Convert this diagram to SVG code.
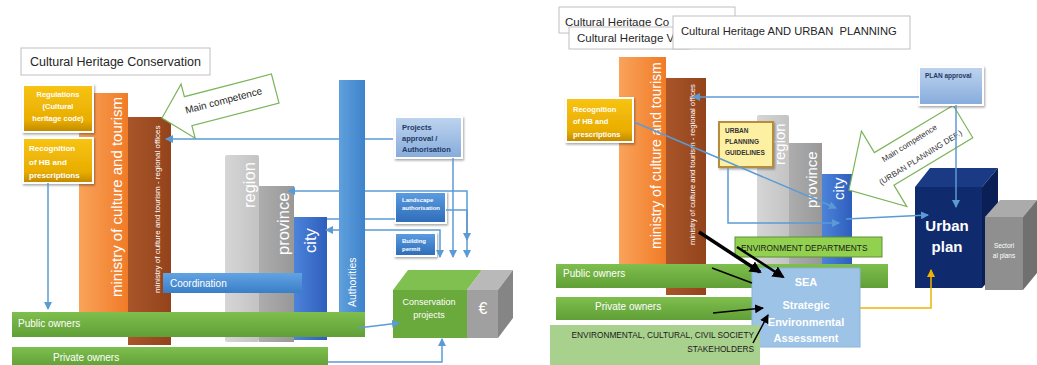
<svg xmlns="http://www.w3.org/2000/svg" width="1037" height="365" viewBox="0 0 1037 365">
<defs>
<style>
text{font-family:"Liberation Sans",Arial,sans-serif}
.w{fill:#fff}
.b{font-weight:bold}
.dk{fill:#1f3864}
.c{fill:none;stroke:#5b9bd5;stroke-width:1.5}
.k{fill:none;stroke:#000}
.fr{stroke:#fff;stroke-width:2;filter:url(#sh)}
.ttl{fill:#fff;stroke:#c0c0c0;stroke-width:1}
.arr{fill:#fff;stroke:#7cb45a;stroke-width:1.2}
</style>
<filter id="sh" x="-20%" y="-20%" width="150%" height="150%"><feDropShadow dx="1" dy="1.5" stdDeviation="1.2" flood-color="#000" flood-opacity="0.35"/></filter>
<linearGradient id="gOr" x1="0" x2="1" y1="0" y2="0"><stop offset="0" stop-color="#f9a35a"/><stop offset="1" stop-color="#f07b27"/></linearGradient>
<linearGradient id="gBr" x1="0" x2="1" y1="0" y2="0"><stop offset="0" stop-color="#a9552a"/><stop offset="1" stop-color="#93431b"/></linearGradient>
<linearGradient id="gGold" x1="0" x2="0" y1="0" y2="1"><stop offset="0" stop-color="#f7c414"/><stop offset="0.75" stop-color="#e9ad00"/><stop offset="1" stop-color="#bf8800"/></linearGradient>
<linearGradient id="gApp" x1="0" x2="0" y1="0" y2="1"><stop offset="0" stop-color="#bed4ef"/><stop offset="1" stop-color="#86abdb"/></linearGradient>
<linearGradient id="gMid" x1="0" x2="0" y1="0" y2="1"><stop offset="0" stop-color="#5c9de2"/><stop offset="1" stop-color="#2d6bb7"/></linearGradient>
<linearGradient id="gCo" x1="0" x2="0" y1="0" y2="1"><stop offset="0" stop-color="#62a3e2"/><stop offset="1" stop-color="#3a7ec7"/></linearGradient>
<linearGradient id="gAu" x1="0" x2="1" y1="0" y2="0"><stop offset="0" stop-color="#5fa0dc"/><stop offset="1" stop-color="#3e82cb"/></linearGradient>
<linearGradient id="gCi" x1="0" x2="1" y1="0" y2="0"><stop offset="0" stop-color="#4d83d9"/><stop offset="1" stop-color="#2e5ebd"/></linearGradient>
<linearGradient id="gRe" x1="0" x2="1" y1="0" y2="0"><stop offset="0" stop-color="#d6d6d6"/><stop offset="1" stop-color="#c3c3c3"/></linearGradient>
<linearGradient id="gPr" x1="0" x2="1" y1="0" y2="0"><stop offset="0" stop-color="#adadad"/><stop offset="1" stop-color="#989898"/></linearGradient>
<linearGradient id="gGr" x1="0" x2="0" y1="0" y2="1"><stop offset="0" stop-color="#7fbf4e"/><stop offset="1" stop-color="#5f9f36"/></linearGradient>
<marker id="ab" markerWidth="8" markerHeight="8" refX="7" refY="4" orient="auto-start-reverse" markerUnits="userSpaceOnUse"><path d="M0,0 L8,4 L0,8 z" fill="#5b9bd5"/></marker>
<marker id="ak" markerWidth="12" markerHeight="12" refX="10" refY="6" orient="auto" markerUnits="userSpaceOnUse"><path d="M0,0 L12,6 L0,12 z" fill="#000"/></marker>
<marker id="ak2" markerWidth="9" markerHeight="9" refX="8" refY="4.5" orient="auto" markerUnits="userSpaceOnUse"><path d="M0,0 L9,4.5 L0,9 z" fill="#000"/></marker>
<marker id="ao" markerWidth="8" markerHeight="8" refX="7" refY="4" orient="auto" markerUnits="userSpaceOnUse"><path d="M0,0 L8,4 L0,8 z" fill="#f0b400"/></marker>
</defs>
<rect width="1037" height="365" fill="#fff"/>

<!-- LEFT PANEL -->
<g id="title-left"><rect class="ttl" x="21" y="48" width="189" height="27"/><text x="30" y="66" font-size="12.5" fill="#262626">Cultural Heritage Conservation</text></g>
<g id="ministry-left"><rect x="79" y="93" width="49" height="222" fill="url(#gOr)"/><text class="w" transform="translate(122,297) rotate(-90)" font-size="15">ministry of culture and tourism</text></g>
<g id="regional-left"><rect x="128" y="117" width="43" height="228" fill="url(#gBr)"/><text class="w" transform="translate(160,293) rotate(-90)" font-size="8">ministry of culture and tourism - regional offices</text></g>
<g id="regulations"><rect class="fr" x="23" y="85" width="70" height="47" fill="url(#gGold)"/><text class="w b" font-size="7.5" text-anchor="middle"><tspan x="58" y="97">Regulations</tspan><tspan x="58" y="109">(Cultural</tspan><tspan x="58" y="121">heritage code)</tspan></text></g>
<g id="recognition-left"><rect class="fr" x="23" y="138" width="70" height="45" fill="url(#gGold)"/><text class="w b" font-size="8"><tspan x="29" y="151">Recognition</tspan><tspan x="29" y="165">of HB and</tspan><tspan x="29" y="178">prescriptions</tspan></text></g>
<g id="region-left"><rect x="225" y="155" width="34" height="187" rx="2" fill="url(#gRe)"/><text class="w" transform="translate(255,208) rotate(-90)" font-size="16.5">region</text></g>
<g id="province-left"><rect x="259" y="186" width="35" height="156" fill="url(#gPr)"/><text class="w" transform="translate(289,255) rotate(-90)" font-size="16.5">province</text></g>
<g id="city-left"><rect x="294" y="217" width="33" height="123" fill="url(#gCi)"/><text class="w" transform="translate(316,253) rotate(-90)" font-size="16.5">city</text></g>
<g id="coordination"><rect x="163" y="273" width="139" height="20" fill="url(#gCo)"/><text class="w" x="170" y="287" font-size="10">Coordination</text></g>
<g id="main-competence-left"><polygon class="arr" transform="translate(162,118) rotate(-14.6)" points="0,0 27,-28 27,-15 117,-15 117,15 27,15 27,28"/><text transform="translate(162,118) rotate(-14.6)" x="64" y="2" font-size="10" fill="#262626" text-anchor="middle">Main competence</text></g>
<g id="projects-approval"><rect class="fr" x="395" y="117" width="67" height="41" fill="url(#gApp)"/><text class="dk b" font-size="7.5"><tspan x="402" y="130">Projects</tspan><tspan x="402" y="141">approval /</tspan><tspan x="402" y="152">Authorisation</tspan></text></g>
<g id="landscape"><rect class="fr" x="395" y="192" width="51" height="31" fill="url(#gMid)"/><text class="w b" font-size="6"><tspan x="402" y="202">Landscape</tspan><tspan x="402" y="210">authorisation</tspan></text></g>
<g id="building"><rect class="fr" x="395" y="233" width="41" height="23" fill="url(#gMid)"/><text class="w b" font-size="6"><tspan x="402" y="243">Building</tspan><tspan x="402" y="251">permit</tspan></text></g>
<g id="conservation"><polygon points="393,290 408,270 482,270 467,290" fill="#80c050"/><rect x="393" y="290" width="74" height="48" fill="#6aa93b"/><polygon points="467,290 482,270 513,270 498,290" fill="#b9b9b9"/><rect x="467" y="290" width="31" height="48" fill="#a0a0a0"/><polygon points="498,290 513,270 513,318 498,338" fill="#858585"/><text class="w" font-size="9" text-anchor="middle"><tspan x="429" y="305">Conservation</tspan><tspan x="429" y="318">projects</tspan></text><text class="w" x="483" y="314" font-size="16" text-anchor="middle">€</text></g>
<g id="authorities"><rect x="339" y="80" width="26" height="233" fill="url(#gAu)"/><text class="w" transform="translate(356,307) rotate(-90)" font-size="10.5">Authorities</text></g>
<g id="public-left"><rect x="12" y="312" width="353" height="25" fill="url(#gGr)"/><text class="w" x="18" y="327" font-size="10">Public owners</text></g>
<g id="private-left"><rect x="12" y="347" width="316" height="20" fill="url(#gGr)"/><text class="w" x="53" y="361" font-size="10">Private owners</text></g>

<!-- RIGHT PANEL -->
<g id="title-r1"><rect class="ttl" x="559" y="7" width="176" height="26"/><text x="565" y="26" font-size="11.5" fill="#262626">Cultural Heritage Co</text></g>
<g id="title-r2"><rect class="ttl" x="569" y="27" width="120" height="22"/><text x="577" y="42" font-size="11.5" fill="#262626">Cultural Heritage V</text></g>
<g id="title-r3"><rect class="ttl" x="673" y="16" width="237" height="33"/><text x="681" y="35" font-size="11.2" fill="#262626" xml:space="preserve">Cultural Heritage AND URBAN  PLANNING</text></g>
<g id="ministry-right"><rect x="619" y="57" width="47" height="207" fill="url(#gOr)"/><text class="w" transform="translate(661,249) rotate(-90)" font-size="14">ministry of culture and tourism</text></g>
<g id="regional-right"><rect x="666" y="78" width="40" height="217" fill="url(#gBr)"/><text class="w" transform="translate(695,245) rotate(-90)" font-size="7.7">ministry of culture and tourism - regional offices</text></g>
<g id="recognition-right"><rect class="fr" x="566" y="98" width="67" height="44" fill="url(#gGold)"/><text class="w b" font-size="7.5"><tspan x="573" y="112">Recognition</tspan><tspan x="573" y="124">of HB and</tspan><tspan x="573" y="137">prescriptions</tspan></text></g>
<g id="region-right"><rect x="757" y="115" width="32" height="150" rx="2" fill="url(#gRe)"/><text class="w" transform="translate(785,165) rotate(-90)" font-size="15">region</text></g>
<g id="province-right"><rect x="789" y="143" width="33" height="122" fill="url(#gPr)"/><text class="w" transform="translate(817,208) rotate(-90)" font-size="15">province</text></g>
<g id="city-right"><rect x="822" y="174" width="30" height="91" fill="url(#gCi)"/><text class="w" transform="translate(844,200) rotate(-90)" font-size="15">city</text></g>
<g id="guidelines"><rect x="719" y="122" width="54" height="45" fill="#fdf0a3" stroke="#b58d3c" stroke-width="2" filter="url(#sh)"/><text class="b" font-size="6.5" fill="#333"><tspan x="725" y="133">URBAN</tspan><tspan x="725" y="144">PLANNING</tspan><tspan x="725" y="155">GUIDELINES</tspan></text></g>
<g id="main-competence-right"><polygon class="arr" transform="translate(849,190) rotate(-31)" points="0,0 41,-44 41,-19 133,-19 133,19 41,19 41,44"/><g transform="translate(849,190) rotate(-32)" font-size="8" fill="#333" text-anchor="middle"><text x="76" y="-5">Main competence</text><text x="78" y="13">(URBAN PLANNING DEF.)</text></g></g>
<g id="urban-plan"><polygon points="915,187 930,168 998,168 982,187" fill="#1b3a85"/><rect x="915" y="187" width="67" height="101" fill="#0f2b6e"/><polygon points="982,187 998,168 998,270 982,288" fill="#0a1f55"/><text class="w b" font-size="15" text-anchor="middle"><tspan x="947" y="231">Urban</tspan><tspan x="947" y="252">plan</tspan></text></g>
<g id="sectoral"><polygon points="985,217 1000,200 1037,200 1023,217" fill="#ababab"/><rect x="985" y="217" width="38" height="73" fill="#8f8f8f"/><polygon points="1023,217 1037,200 1037,273 1023,290" fill="#707070"/><text class="w" font-size="6.5" text-anchor="middle"><tspan x="1004" y="248">Sectori</tspan><tspan x="1004" y="258">al plans</tspan></text></g>
<g id="plan-approval"><rect class="fr" x="919" y="67" width="64" height="38" fill="url(#gApp)"/><text class="dk b" x="925" y="78" font-size="6.5">PLAN approval</text></g>
<g id="public-right"><rect x="556" y="264" width="332" height="24" fill="url(#gGr)"/><text class="w" x="563" y="277" font-size="10">Public owners</text></g>
<g id="private-right"><rect x="556" y="297" width="224" height="23" fill="url(#gGr)"/><text class="w" x="595" y="310" font-size="10">Private owners</text></g>
<g id="env-departments"><rect x="735" y="237" width="147" height="20" fill="#92d050" stroke="#5f8f35" stroke-width="1"/><text x="741" y="251" font-size="8.4" fill="#1a1a1a">ENVIRONMENT DEPARTMENTS</text></g>
<g id="sea"><rect x="752" y="268" width="108" height="79" fill="#9dc3e6" stroke="#8ab2dc" stroke-width="1"/><text class="w b" font-size="11" text-anchor="middle"><tspan x="806" y="286">SEA</tspan><tspan x="806" y="309">Strategic</tspan><tspan x="806" y="326">Environmental</tspan><tspan x="806" y="342">Assessment</tspan></text></g>
<g id="stakeholders"><rect x="550" y="325" width="210" height="42" fill="#a9d18e"/><text font-size="8.3" fill="#1a1a1a" text-anchor="end"><tspan x="754" y="338">ENVIRONMENTAL, CULTURAL, CIVIL SOCIETY</tspan><tspan x="754" y="352">STAKEHOLDERS</tspan></text></g>

<!-- CONNECTORS -->
<g id="connectors">
<path class="c" d="M48,183 V309" marker-end="url(#ab)"/>
<path class="c" d="M393,139 H365 M339,139 H166" marker-end="url(#ab)"/>
<path class="c" d="M288,191 H339 M365,191 H467 V240" marker-start="url(#ab)" marker-end="url(#ab)"/>
<path class="c" d="M446,210 H467 V257" marker-end="url(#ab)"/>
<path class="c" d="M327,219 H339 M365,219 H395"/>
<path class="c" d="M326,230 H339 M365,230 H440 V257" marker-start="url(#ab)" marker-end="url(#ab)"/>
<path class="c" d="M453,158 V257" marker-end="url(#ab)"/>
<path class="c" d="M358,328 L399,323" marker-end="url(#ab)"/>
<path class="c" d="M328,362 H442 V339" marker-end="url(#ab)"/>
<path class="c" d="M919,97 H693" marker-end="url(#ab)"/>
<path class="c" d="M956,105 V207" marker-end="url(#ab)"/>
<path class="c" d="M634,122 L836,208" stroke-width="1.2" marker-end="url(#ab)"/>
<path class="c" d="M728,168 V223 H839" stroke-width="1.2" marker-end="url(#ab)"/>
<path class="c" d="M846,219 L928,215" stroke-width="1.2" marker-end="url(#ab)"/>
<path class="k" d="M699,232 L760,272" stroke-width="3.5" marker-end="url(#ak)"/>
<path class="k" d="M737,247 L783,277" stroke-width="2.5" marker-end="url(#ak)"/>
<path class="k" d="M712,268 L752,283" stroke-width="1.5"/>
<path class="k" d="M713,313 L763,308" stroke-width="1.5" marker-end="url(#ak2)"/>
<path class="k" d="M753,343 L768,315" stroke-width="1.5" marker-end="url(#ak2)"/>
<path d="M860,308 H931 V270" fill="none" stroke="#f0b400" stroke-width="1.5" marker-end="url(#ao)"/>
</g>
</svg>
